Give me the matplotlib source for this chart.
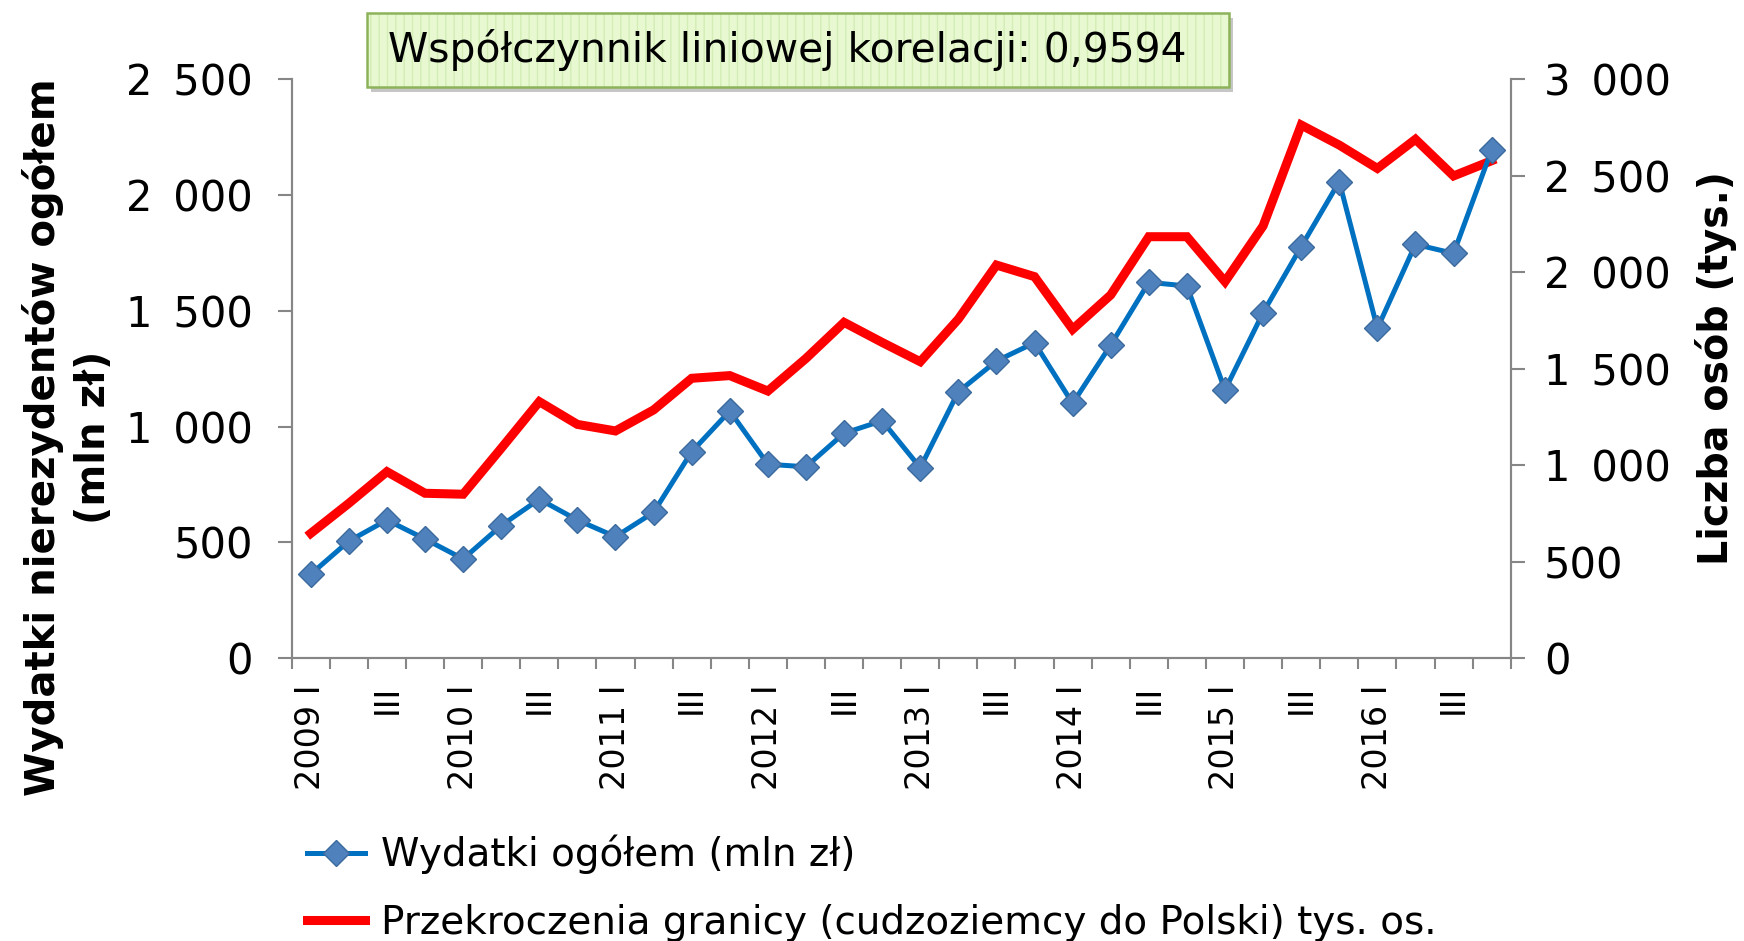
import matplotlib
matplotlib.use("Agg")
import matplotlib.pyplot as plt
from matplotlib.ticker import FuncFormatter, FixedLocator
from matplotlib.patches import FancyBboxPatch
from matplotlib.lines import Line2D

plt.rcParams['font.family'] = ['DejaVu Sans']

# dane kwartalne 2009 I - 2016 IV
years = [2009, 2010, 2011, 2012, 2013, 2014, 2015, 2016]
quarters = ['I', 'II', 'III', 'IV']

# wydatki nierezydentów ogółem (mln zł) - lewa oś
wydatki = [362, 505, 596, 514, 428, 572, 686, 596, 524, 629, 891, 1067,
           837, 826, 971, 1025, 822, 1150, 1283, 1362, 1100, 1352, 1623, 1607,
           1158, 1492, 1777, 2058, 1424, 1787, 1748, 2195]

# przekroczenia granicy przez cudzoziemców (tys. os.) - prawa oś
przekroczenia = [646, 802, 966, 854, 849, 1087, 1329, 1211, 1177, 1286, 1450, 1464,
                 1384, 1553, 1740, 1636, 1536, 1757, 2037, 1977, 1704, 1882, 2184, 2184,
                 1951, 2240, 2763, 2659, 2538, 2689, 2499, 2578]

korelacja = '0,9594'

labels = []
for y in years:
    for q in quarters:
        if q == 'I':
            labels.append(f'{y} I')
        elif q == 'III':
            labels.append('III')
        else:
            labels.append('')
x = list(range(len(labels)))

W, H = 1744, 941
fig = plt.figure(figsize=(W / 100, H / 100), dpi=100)
ax = fig.add_axes([291.7 / W, 1 - 658 / H, (1510.7 - 291.7) / W, (658 - 79.3) / H])
ax2 = ax.twinx()

axcol = '#868686'
fmt = FuncFormatter(lambda v, p: f'{v:,.0f}'.replace(',', '\u2002'))

l2, = ax2.plot(x, przekroczenia, color='#ff0000', lw=6.5, solid_joinstyle='miter', zorder=2)
l1, = ax.plot(x, wydatki, color='#0070c0', lw=3.6, marker='D', ms=13,
              mfc='#4f81bd', mec='#3c6a9e', mew=1.0, zorder=3)
ax.set_zorder(ax2.get_zorder() + 1)
ax.patch.set_visible(False)

ax.set_xlim(-0.5, len(x) - 0.5)
ax.set_ylim(0, 2500)
ax2.set_ylim(0, 3000)
ax.set_yticks(range(0, 2501, 500))
ax2.set_yticks(range(0, 3001, 500))
ax.yaxis.set_major_formatter(fmt)
ax2.yaxis.set_major_formatter(fmt)

ax.set_xticks(x)
ax.set_xticklabels(labels, rotation=90, ha='center', va='top', fontsize=24)
ax.xaxis.set_minor_locator(FixedLocator([i - 0.5 for i in range(len(x) + 1)]))
ax.tick_params(axis='x', which='major', length=0, pad=19)
ax.tick_params(axis='x', which='minor', length=8, width=1.5, color=axcol, direction='out')
ax.tick_params(axis='y', length=10, width=1.5, color=axcol, labelsize=30, pad=18)
ax2.tick_params(axis='y', length=10, width=1.5, color=axcol, labelsize=30, pad=14)

for a in (ax, ax2):
    a.spines['top'].set_visible(False)
    for s in ('left', 'right', 'bottom'):
        a.spines[s].set_color(axcol)
        a.spines[s].set_linewidth(1.5)

fig.text(0.039, 0.535, 'Wydatki nierezydentów ogółem\n(mln zł)', rotation=90,
         ha='center', va='center', multialignment='center', fontsize=29,
         fontweight='bold', linespacing=1.3)
fig.text(1716 / W, 1 - 368 / H, 'Liczba osób (tys.)', rotation=90,
         ha='center', va='center', fontsize=28.5, fontweight='bold')

# ramka ze wspolczynnikiem korelacji
bx0, bx1, by0, by1 = 367, 1229, 13, 87
shadow = FancyBboxPatch((bx0 / W + 4 / W, 1 - by1 / H - 5 / H), (bx1 - bx0) / W, (by1 - by0) / H,
                        boxstyle='square,pad=0', transform=fig.transFigure,
                        fc='#a0a0a0', ec='none', alpha=0.6, zorder=1)
box = FancyBboxPatch((bx0 / W, 1 - by1 / H), (bx1 - bx0) / W, (by1 - by0) / H,
                     boxstyle='square,pad=0', transform=fig.transFigure,
                     fc='#e8f9d2', ec='#d3edb4', hatch='||', lw=0, zorder=2)
frame = FancyBboxPatch((bx0 / W, 1 - by1 / H), (bx1 - bx0) / W, (by1 - by0) / H,
                       boxstyle='square,pad=0', transform=fig.transFigure,
                       fc='none', ec='#8cb35a', lw=1.8, zorder=3)
fig.patches.extend([shadow, box, frame])
fig.text(388 / W, 1 - 50 / H, f'Współczynnik liniowej korelacji: {korelacja}',
         ha='left', va='center', fontsize=29.3, zorder=4)

h1 = Line2D([], [], color='#0070c0', lw=3.6, marker='D', ms=13, mfc='#4f81bd', mec='#3c6a9e')
h2 = Line2D([], [], color='#ff0000', lw=6.5)
fig.legend([h1, h2], ['Wydatki ogółem (mln zł)',
                      'Przekroczenia granicy (cudzoziemcy do Polski) tys. os.'],
           loc='upper left', bbox_to_anchor=(307 / W, 1 - 835 / H), frameon=False,
           fontsize=28, handlelength=1.5, handletextpad=0.4, labelspacing=0.75,
           borderpad=0, borderaxespad=0)

fig.savefig('out.png', dpi=100)
